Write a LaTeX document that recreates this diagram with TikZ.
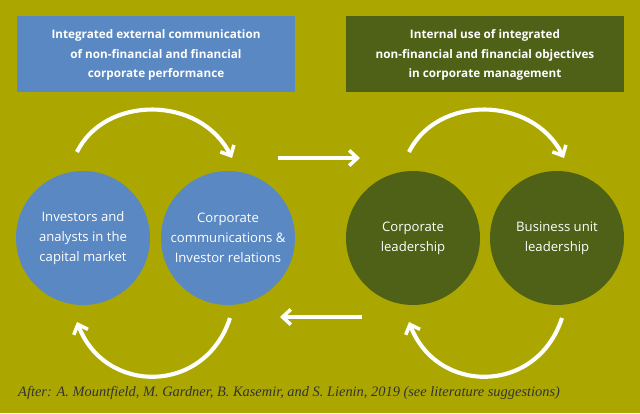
\documentclass[tikz,border=0pt]{standalone}
\usepackage{fontspec}
\setmainfont{Liberation Serif}
\setsansfont{Open Sans}
\usetikzlibrary{arrows.meta}
\definecolor{bg}{HTML}{ACA700}
\definecolor{bl}{HTML}{5A88C2}
\definecolor{dg}{HTML}{4E6117}
\begin{document}
\begin{tikzpicture}[x=0.03cm,y=-0.03cm,
 box/.style={inner sep=0,text=white,font=\sffamily\bfseries\fontsize{10}{17}\selectfont,align=center},
 circ/.style={circle,minimum size=4.02cm,inner sep=0,text=white,font=\sffamily\fontsize{11.2}{17}\selectfont,align=center},
 arr/.style={white,line width=3.5pt,-{Straight Barb[length=7pt,width=13pt,line width=3pt]}}]
\fill[bg] (0,0) rectangle (640,413);
\useasboundingbox (0,0) rectangle (640,413);
\fill[bl] (17,16) rectangle (295,92);
\node[box] (t1) at (156,55) {Integrated external communication\\of non-financial and financial\\corporate performance};
\fill[dg] (346,16) rectangle (624,92);
\node[box] (t2) at (485,55) {Internal use of integrated\\non-financial and financial objectives\\in corporate management};
\node[circ,fill=bl] (c1) at (83,238) {Investors and\\analysts in the\\capital market};
\node[circ,fill=bl] (c2) at (228,238) {Corporate\\communications \&\\Investor relations};
\node[circ,fill=dg] (c3) at (413,238) {Corporate\\leadership};
\node[circ,fill=dg] (c4) at (557,238) {Business unit\\leadership};
\coordinate (a1) at (77,152); \coordinate (a2) at (232,158);
\draw[arr] (a1) .. controls (105,95) and (200,95) .. (a2);
\coordinate (b1) at (230,318); \coordinate (b2) at (77,322);
\draw[arr] (b1) .. controls (205,395) and (105,395) .. (b2);
\coordinate (d1) at (409,152); \coordinate (d2) at (564,158);
\draw[arr] (d1) .. controls (437,95) and (532,95) .. (d2);
\coordinate (e1) at (562,318); \coordinate (e2) at (409,322);
\draw[arr] (e1) .. controls (537,395) and (437,395) .. (e2);
\coordinate (m1) at (278,158); \coordinate (m2) at (360,158);
\draw[arr] (m1) -- (m2);
\coordinate (n1) at (362,317); \coordinate (n2) at (280,317);
\draw[arr] (n1) -- (n2);
\node[anchor=west,inner sep=0,font=\itshape\fontsize{12.3}{14}\selectfont,text=black!80] (f) at (18,393) {After: A. Mountfield, M. Gardner, B. Kasemir, and S. Lienin, 2019 (see literature suggestions)};
\end{tikzpicture}
\end{document}
